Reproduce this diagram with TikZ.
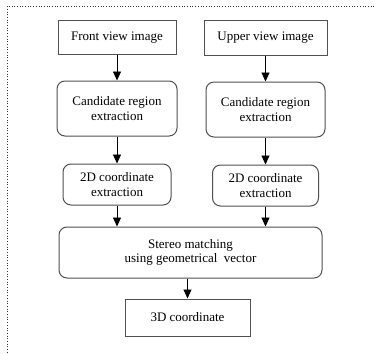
\documentclass[tikz,border=0pt]{standalone}
\usepackage{fontspec}
\setmainfont{Liberation Serif}
\usetikzlibrary{positioning, arrows.meta}
\definecolor{boxGrey}{HTML}{505050}

\begin{document}
\begin{tikzpicture}[x=1pt, y=-1pt, font=\fontsize{13}{14.5}\selectfont, node distance=26pt,
    plainbox/.style={draw=boxGrey, line width=1pt, fill=white, align=center},
    roundbox/.style={plainbox, rounded corners=8pt},
    flow/.style={-{Triangle[width=8pt,length=9pt]}, line width=0.9pt}]
    \useasboundingbox (0,0) rectangle (374,353);
    \draw[dotted, line width=0.7pt, black!80] (374,6) -- (7,6) -- (7,353);
    \node[plainbox, minimum width=118pt, minimum height=33pt] (front) at (117,37.5)
      {Front view image};
    \node[plainbox, minimum width=123pt, minimum height=34pt] (upper) at (265.5,38)
      {Upper view image};
    \node[roundbox, minimum width=120pt, minimum height=55pt, below=of front] (candL)
      {Candidate region\\extraction};
    \node[roundbox, minimum width=119pt, minimum height=55pt, below=of upper] (candR)
      {Candidate region\\extraction};
    \node[roundbox, minimum width=108pt, minimum height=41pt, below=27pt of candL] (coordL)
      {2D coordinate\\extraction};
    \node[roundbox, minimum width=106pt, minimum height=41pt, below=27pt of candR] (coordR)
      {2D coordinate\\extraction};
    \node[roundbox, minimum width=263pt, minimum height=51pt] (stereo) at (190.5,252.5)
      {Stereo matching\\using geometrical\ \ vector};
    \node[plainbox, minimum width=125pt, minimum height=37pt] (result) at (187.5,317.5)
      {3D coordinate};
    \draw[flow] (front) -- (candL);
    \draw[flow] (upper) -- (candR);
    \draw[flow] (candL) -- (coordL);
    \draw[flow] (candR) -- (coordR);
    \draw[flow] (coordL.south) -- (coordL.south |- stereo.north);
    \draw[flow] (coordR.south) -- (coordR.south |- stereo.north);
    \draw[flow] (stereo.south -| result.north) -- (result.north);
\end{tikzpicture}
\end{document}
